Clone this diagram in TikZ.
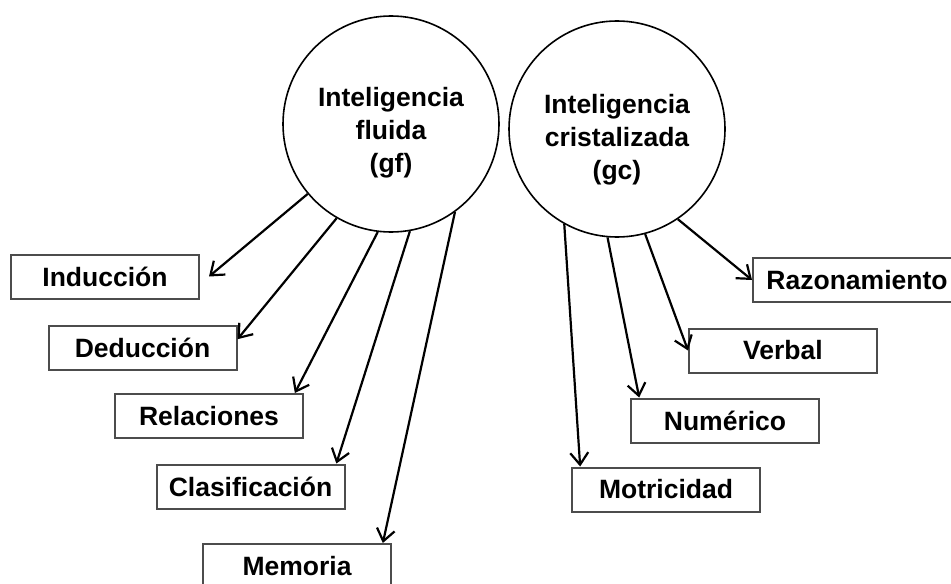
\documentclass[tikz,border=0pt]{standalone}
\usepackage{fontspec}
\setmainfont{Liberation Sans}
\usetikzlibrary{arrows.meta}
\tikzstyle{bx} = [rectangle, draw=black!70, line width=1pt,
    minimum width=94pt, minimum height=22pt, inner sep=0pt,
    font=\fontsize{13.25pt}{16.5pt}\selectfont\bfseries]
\tikzstyle{ci} = [circle, draw, line width=0.8pt, minimum size=108pt,
    inner sep=0pt]
\tikzstyle{ct} = [align=center, inner sep=0pt,
    font=\fontsize{13.25pt}{16.5pt}\selectfont\bfseries]

\begin{document}
\begin{tikzpicture}[x=0.5pt,y=-0.5pt,line width=1.1pt,
    >={Straight Barb[length=6pt,width=9pt]}]
  \useasboundingbox (0,0) rectangle (951,583);
  \node[ci] (gf) at (391,124) {};
  \node[ct] (gft) at (391,133) {Inteligencia\\fluida\\(gf)};
  \node[ci] (gc) at (617,129) {};
  \node[ct] (gct) at (617,140) {Inteligencia\\cristalizada\\(gc)};

  \node[bx] (ind) at (105,276.5) {Inducción};
  \node[bx] (ded) at (142.5,347.5) {Deducción};
  \node[bx] (rel) at (209,416) {Relaciones};
  \node[bx] (cla) at (250.5,486.5) {Clasificación};
  \node[bx] (mem) at (297,566) {Memoria};

  \node[bx,minimum width=104pt] (raz) at (857,280) {Razonamiento};
  \node[bx] (ver) at (783,350.5) {Verbal};
  \node[bx] (num) at (725,420.5) {Numérico};
  \node[bx] (mot) at (666,489.5) {Motricidad};

  \path[->] (gf.220) edge ([xshift=4.5pt]ind.east);
  \path[->] (gf.240) edge (ded.5);
  \path[->] (gf.263) edge (rel.15);
  \path[->] (gf.280) edge (cla.15);
  \path[->] (gf.306) edge (mem.15);
  \path[->] (gc.304) edge (raz.west);
  \path[->] (gc.285) edge (ver.west);
  \path[->] (gc.265) edge (num.165);
  \path[->] (gc.241) edge (mot.165);
\end{tikzpicture}
\end{document}
